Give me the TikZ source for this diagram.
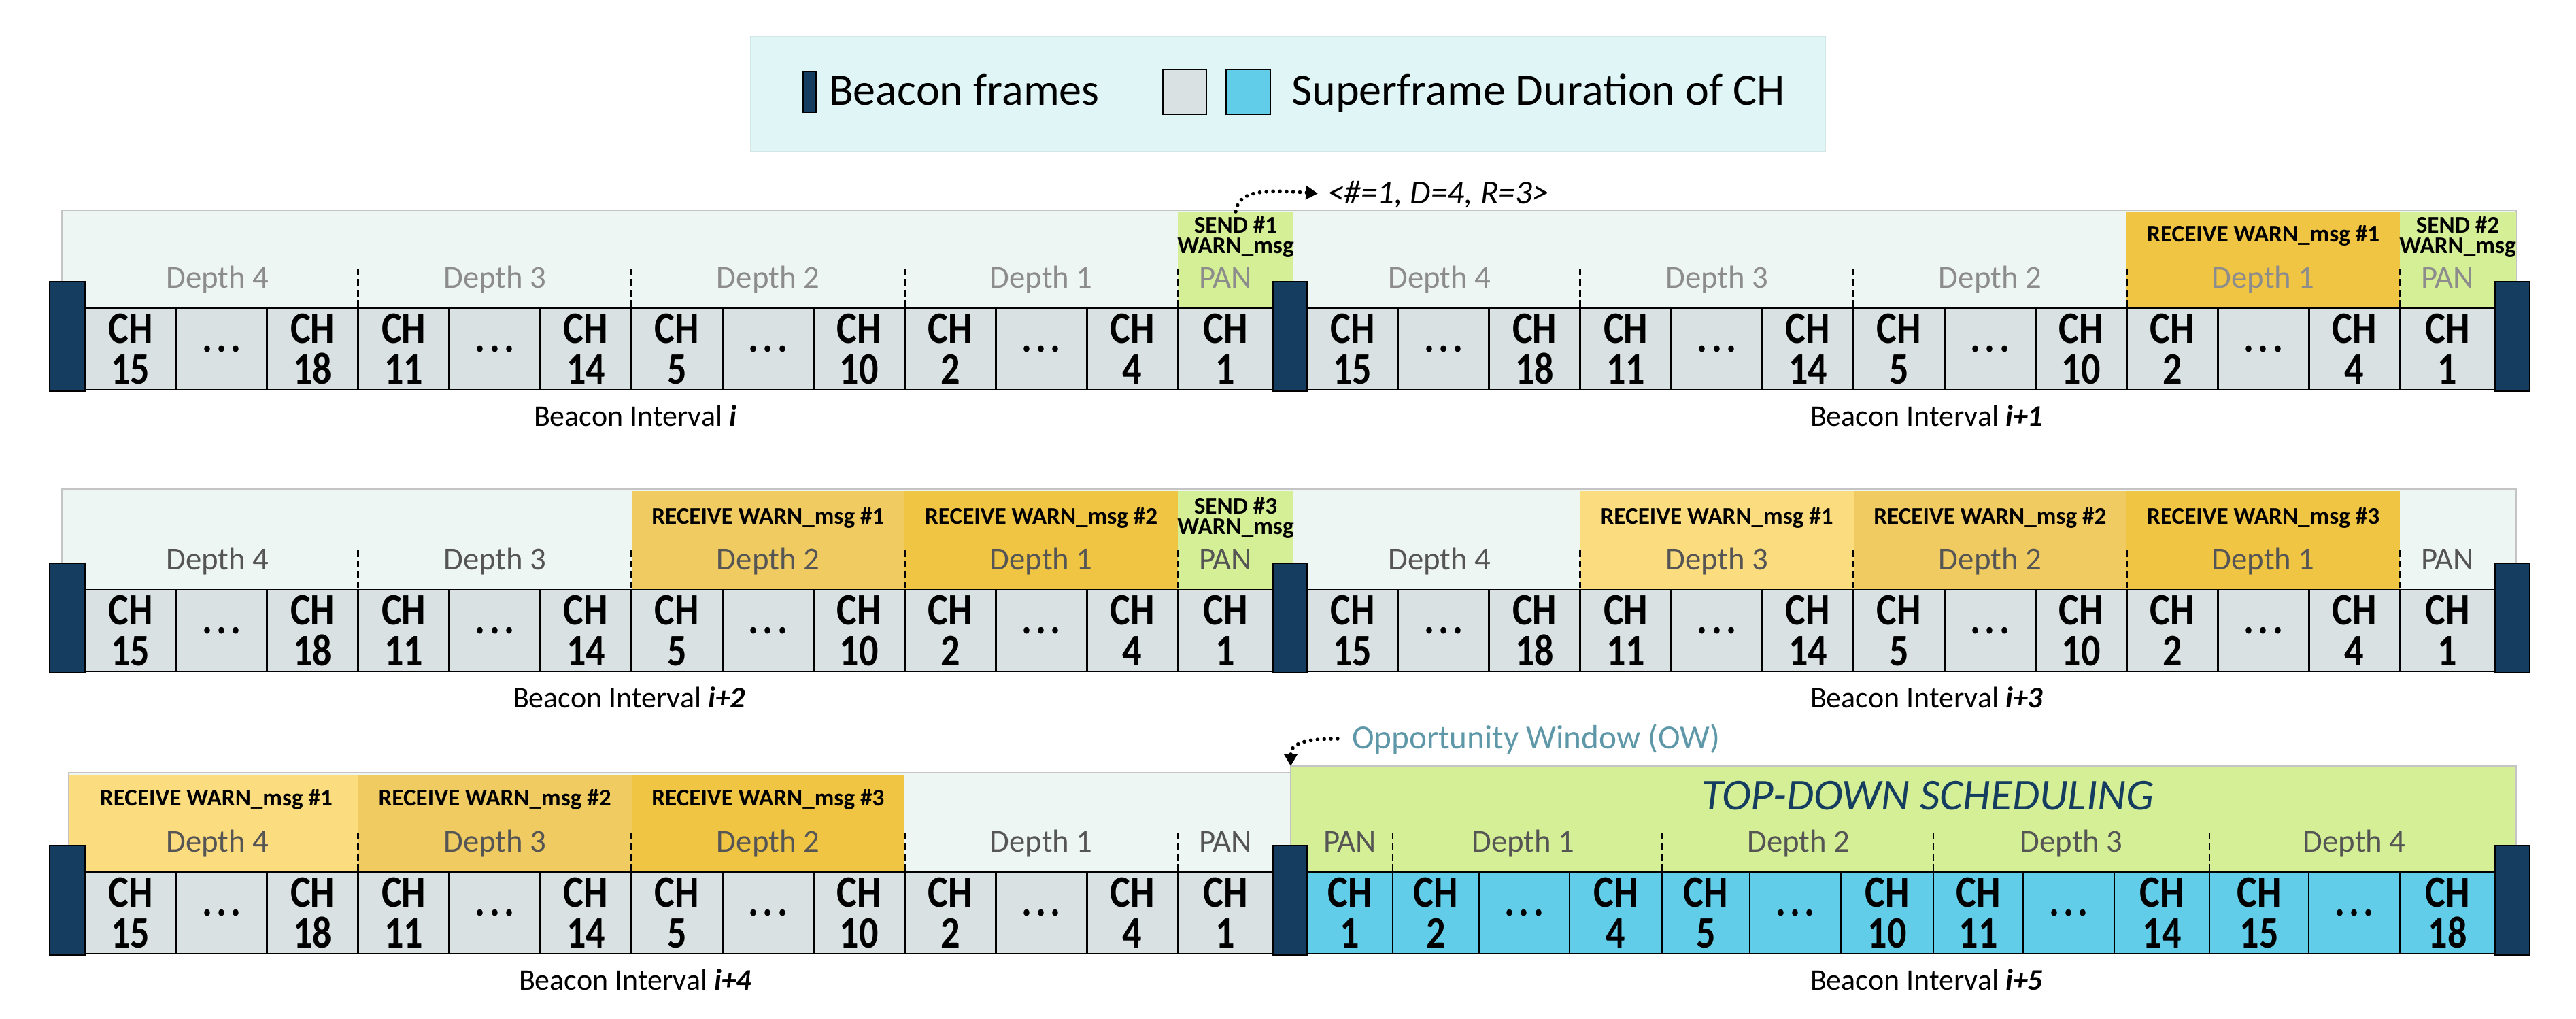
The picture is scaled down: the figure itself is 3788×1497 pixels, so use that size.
\documentclass[tikz,border=0pt]{standalone}
\usepackage{fontspec}
\setmainfont{Carlito}
\newfontfamily\chfont[FakeStretch=0.85]{Carlito}
\usetikzlibrary{arrows.meta}
\definecolor{bgmint}{HTML}{EEF6F4}
\definecolor{bgline}{HTML}{C4C4C4}
\definecolor{legbg}{HTML}{DFF5F6}
\definecolor{legline}{HTML}{D2E6E6}
\definecolor{cellgrey}{HTML}{D9E1E2}
\definecolor{cblue}{HTML}{62CDE8}
\definecolor{navy}{HTML}{143D5F}
\definecolor{sgreen}{HTML}{D5EF96}
\definecolor{rlight}{HTML}{FBDC7E}
\definecolor{rmid}{HTML}{F0CB62}
\definecolor{rdark}{HTML}{F0C543}
\definecolor{owcol}{HTML}{5E98A8}
\definecolor{depthgrey}{HTML}{8C8C8C}
\definecolor{depthdark}{HTML}{555555}
\tikzset{
  plain/.style={inner sep=0pt, outer sep=0pt},
  bgbox/.style={plain, fill=bgmint, draw=bgline, line width=0.7pt},
  legbox/.style={plain, fill=legbg, draw=legline, line width=0.6pt},
  cell/.style={plain, fill=cellgrey, draw=black, line width=0.8pt, align=center,
    font={\chfont\bfseries\fontsize{18.8}{17}\selectfont}},
  bluecell/.style={cell, fill=cblue},
  beacon/.style={plain, fill=navy, draw=black, line width=0.8pt},
  msgbox/.style={plain, fill=#1},
  depthA/.style={plain, text=depthgrey, font={\fontsize{13.3}{15}\selectfont}},
  depthB/.style={plain, text=depthdark, font={\fontsize{13.3}{15}\selectfont}},
  msgtxt/.style={plain, font={\bfseries\fontsize{10}{12}\selectfont}},
  bitxt/.style={plain, font={\fontsize{12.5}{15}\selectfont}},
  legtxt/.style={plain, font={\fontsize{18.8}{22}\selectfont}},
  paramtxt/.style={plain, font={\itshape\fontsize{14}{16}\selectfont}},
  owtxt/.style={plain, text=owcol, font={\fontsize{14}{16}\selectfont}},
  tdtxt/.style={plain, text=navy, font={\itshape\fontsize{18.5}{21}\selectfont}},
  sep/.style={black, line width=0.8pt, dash pattern=on 2.8pt off 1.6pt},
  dotarrow/.style={line width=1.6pt, dash pattern=on 0pt off 2.8pt, line cap=round,
    -{Triangle[length=5pt,width=5.5pt]}},
}
\newcommand\boxat[7][]{%
  \pgfmathsetmacro\myW{(#6)-(#4)}\pgfmathsetmacro\myH{(#7)-(#5)}%
  \node[#2, anchor=north west, minimum width=\myW*0.01cm, minimum height=\myH*0.01cm] (#3) at (#4,#5) {#1};}
\newcommand\dotsx{.\kern1.8pt.\kern1.8pt.}
\newcommand\chlab[1]{\ifnum#1=0 \dotsx\else CH\\#1\fi}
\newcommand\greyrow[3]{%
  \foreach \n/\ca/\cb [count=\i] in {15/0/133.9, 0/133.9/267.8, 18/267.8/401.8, 11/401.8/535.7,
      0/535.7/669.6, 14/669.6/803.5, 5/803.5/937.4, 0/937.4/1071.4, 10/1071.4/1205.3,
      2/1205.3/1339.2, 0/1339.2/1473.1, 4/1473.1/1607, 1/1607/1747}{%
    \pgfmathsetmacro\xa{#2+\ca}\pgfmathsetmacro\xb{#2+\cb}\pgfmathsetmacro\yb{#3+120}%
    \boxat[\chlab{\n}]{cell}{#1\i}{\xa}{#3}{\xb}{\yb}}}
\begin{document}
\begin{tikzpicture}[x=0.01cm, y=-0.01cm]
\useasboundingbox (0,0) rectangle (3788,1497);
% ---------------- legend
\boxat{legbox}{leg}{1104}{54}{2684}{223}
\boxat{beacon}{legbeacon}{1181}{105}{1200}{165}
\node[legtxt, anchor=base west] (legA) at (1219,155) {Beacon frames};
\boxat{cell}{leggrey}{1710}{102}{1774}{168}
\boxat{bluecell}{legblue}{1803}{102}{1868}{168}
\node[legtxt, anchor=base west] (legB) at (1899,155) {Superframe Duration of CH};
% ---------------- row 1
\boxat{bgbox}{bg1}{91}{309}{3700}{573}
\boxat{msgbox=sgreen}{send1}{1732}{311}{1902}{453}
\boxat{msgbox=rdark}{r1rcv}{3127.3}{311}{3529}{453}
\boxat{msgbox=sgreen}{send2}{3529}{311}{3700}{453}
\foreach \x in {526.8,928.5,1330.3,1732,2323.8,2725.5,3127.3,3529}
  \draw[sep] (\x,395) -- (\x,453);
\foreach \t/\x [count=\i] in {Depth 4/320, Depth 3/727.7, Depth 2/1129.4, Depth 1/1531.2, PAN/1802,
    Depth 4/2117, Depth 3/2524.7, Depth 2/2926.4, Depth 1/3328.2, PAN/3599}
  \node[depthA, anchor=base] (r1d\i) at (\x,423) {\t};
\node[msgtxt, anchor=base] (r1m1) at (3328.2,355) {RECEIVE WARN\_msg \#1};
\node[msgtxt, anchor=base] (r1s1a) at (1817,342) {SEND \#1};
\node[msgtxt, anchor=base] (r1s1b) at (1817,372) {WARN\_msg};
\node[msgtxt, anchor=base] (r1s2a) at (3614,342) {SEND \#2};
\node[msgtxt, anchor=base] (r1s2b) at (3614,372) {WARN\_msg};
\greyrow{r1L}{125}{453}
\greyrow{r1R}{1922}{453}
\boxat{beacon}{r1b0}{73}{414}{125}{575}
\boxat{beacon}{r1b1}{1872}{414}{1922}{575}
\boxat{beacon}{r1b2}{3669}{414}{3720}{575}
\node[bitxt, anchor=base west] (bi0) at (785,626) {Beacon Interval \textbf{\textit{i}}};
\node[bitxt, anchor=base west] (bi1) at (2662,626) {Beacon Interval \textbf{\textit{i+1}}};
\node[paramtxt, anchor=base west] (param) at (1952,299) {<\#=1, D=4, R=3>};
\draw[dotarrow, shorten >=4pt] (send1.north) .. controls (1822,282) and (1850,278) .. (param.west);
% ---------------- row 2
\boxat{bgbox}{bg2}{91}{719}{3700}{987}
\boxat{msgbox=rmid}{r2m1box}{928.5}{722}{1330.3}{867}
\boxat{msgbox=rdark}{r2m2box}{1330.3}{722}{1732}{867}
\boxat{msgbox=sgreen}{send3}{1732}{722}{1902}{867}
\boxat{msgbox=rlight}{r2m3box}{2323.8}{722}{2725.5}{867}
\boxat{msgbox=rmid}{r2m4box}{2725.5}{722}{3127.3}{867}
\boxat{msgbox=rdark}{r2m5box}{3127.3}{722}{3529}{867}
\foreach \x in {526.8,928.5,1330.3,1732,2323.8,2725.5,3127.3,3529}
  \draw[sep] (\x,809) -- (\x,867);
\foreach \t/\x [count=\i] in {Depth 4/320, Depth 3/727.7, Depth 2/1129.4, Depth 1/1531.2, PAN/1802,
    Depth 4/2117, Depth 3/2524.7, Depth 2/2926.4, Depth 1/3328.2, PAN/3599}
  \node[depthB, anchor=base] (r2d\i) at (\x,837) {\t};
\node[msgtxt, anchor=base] (r2m1) at (1129.4,770) {RECEIVE WARN\_msg \#1};
\node[msgtxt, anchor=base] (r2m2) at (1531.2,770) {RECEIVE WARN\_msg \#2};
\node[msgtxt, anchor=base] (r2s3a) at (1817,755) {SEND \#3};
\node[msgtxt, anchor=base] (r2s3b) at (1817,785) {WARN\_msg};
\node[msgtxt, anchor=base] (r2m3) at (2524.7,770) {RECEIVE WARN\_msg \#1};
\node[msgtxt, anchor=base] (r2m4) at (2926.4,770) {RECEIVE WARN\_msg \#2};
\node[msgtxt, anchor=base] (r2m5) at (3328.2,770) {RECEIVE WARN\_msg \#3};
\greyrow{r2L}{125}{867}
\greyrow{r2R}{1922}{867}
\boxat{beacon}{r2b0}{73}{828}{125}{989}
\boxat{beacon}{r2b1}{1872}{828}{1922}{989}
\boxat{beacon}{r2b2}{3669}{828}{3720}{989}
\node[bitxt, anchor=base west] (bi2) at (754,1040) {Beacon Interval \textbf{\textit{i+2}}};
\node[bitxt, anchor=base west] (bi3) at (2662,1040) {Beacon Interval \textbf{\textit{i+3}}};
% ---------------- row 3
\boxat{bgbox}{bg3}{101}{1136}{1898}{1402}
\boxat{bgbox, fill=sgreen}{td}{1898}{1126}{3700}{1282}
\boxat{msgbox=rlight}{r3m1box}{102}{1139}{526.8}{1282}
\boxat{msgbox=rmid}{r3m2box}{526.8}{1139}{928.5}{1282}
\boxat{msgbox=rdark}{r3m3box}{928.5}{1139}{1330.3}{1282}
\foreach \x in {526.8,928.5,1330.3,1732,2048,2444,2843,3249}
  \draw[sep] (\x,1224) -- (\x,1282);
\foreach \t/\x [count=\i] in {Depth 4/320, Depth 3/727.7, Depth 2/1129.4, Depth 1/1531.2, PAN/1802,
    PAN/1985, Depth 1/2240, Depth 2/2645, Depth 3/3046, Depth 4/3462}
  \node[depthB, anchor=base] (r3d\i) at (\x,1252) {\t};
\node[msgtxt, anchor=base] (r3m1) at (318,1184) {RECEIVE WARN\_msg \#1};
\node[msgtxt, anchor=base] (r3m2) at (727.7,1184) {RECEIVE WARN\_msg \#2};
\node[msgtxt, anchor=base] (r3m3) at (1129.4,1184) {RECEIVE WARN\_msg \#3};
\node[tdtxt, anchor=base] (tdlabel) at (2835,1190) {TOP-DOWN SCHEDULING};
\greyrow{r3L}{125}{1282}
\foreach \n/\xa/\xb [count=\i] in {1/1922/2048, 2/2048/2175, 0/2175/2308, 4/2308/2444,
    5/2444/2573, 0/2573/2707, 10/2707/2843, 11/2843/2975, 0/2975/3109, 14/3109/3249,
    15/3249/3395, 0/3395/3529, 18/3529/3669}
  {\boxat[\chlab{\n}]{bluecell}{r3R\i}{\xa}{1282}{\xb}{1402}}
\boxat{beacon}{r3b0}{73}{1243}{125}{1404}
\boxat{beacon}{r3b1}{1872}{1243}{1922}{1404}
\boxat{beacon}{r3b2}{3669}{1243}{3720}{1404}
\node[bitxt, anchor=base west] (bi4) at (763,1455) {Beacon Interval \textbf{\textit{i+4}}};
\node[bitxt, anchor=base west] (bi5) at (2662,1455) {Beacon Interval \textbf{\textit{i+5}}};
\node[owtxt, anchor=base west] (ow) at (1988,1100) {Opportunity Window (OW)};
\draw[dotarrow, shorten <=6pt] (ow.west) .. controls (1905,1086) and (1898,1098) .. (td.north west);
\end{tikzpicture}
\end{document}
